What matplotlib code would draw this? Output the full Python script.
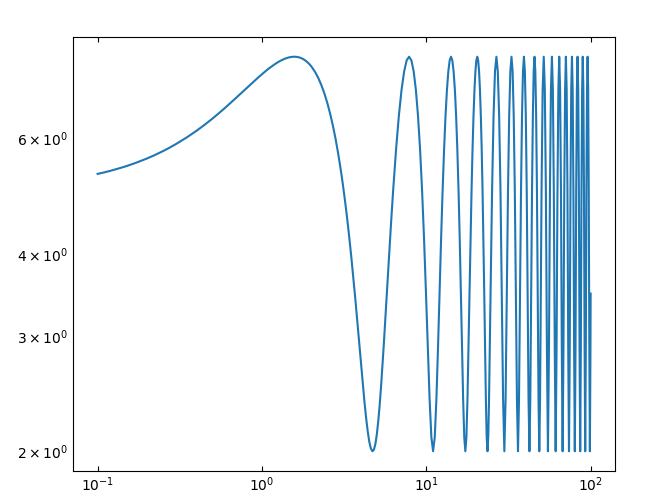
import matplotlib
matplotlib.use("Agg")
import matplotlib.pyplot as plt

# Values (x on log axis, y on log axis)
x_start = [0.10, 0.11, 0.12, 0.13, 0.14, 0.15, 0.17, 0.20, 0.22, 0.25, 0.27, 0.30,
           0.35, 0.40, 0.45, 0.50, 0.55, 0.60, 0.65, 0.70, 0.75, 0.80, 0.85, 0.90,
           0.95, 1.00, 1.05, 1.10, 1.15, 1.20, 1.25, 1.30, 1.35, 1.40, 1.45, 1.50,
           1.55, 1.60, 1.65, 1.70, 1.75, 1.80, 1.85, 1.90, 1.95, 2.00, 2.10, 2.20,
           2.30, 2.40, 2.50, 2.60, 2.70, 2.80, 2.90, 3.00, 3.10, 3.20, 3.30, 3.40,
           3.50, 3.60, 3.70, 3.80, 3.90, 4.00, 4.10, 4.20, 4.30, 4.40, 4.50, 4.60,
           4.70, 4.80, 4.90, 5.00, 5.10, 5.20, 5.30, 5.40, 5.50, 5.60, 5.70, 5.80,
           5.90, 6.00, 6.10, 6.20]
y_start = [5.300, 5.329, 5.359, 5.389, 5.419, 5.448, 5.508, 5.596, 5.655, 5.742,
           5.800, 5.887, 6.029, 6.168, 6.305, 6.438, 6.568, 6.694, 6.816, 6.933,
           7.045, 7.152, 7.254, 7.350, 7.440, 7.524, 7.602, 7.674, 7.738, 7.796,
           7.847, 7.891, 7.927, 7.956, 7.978, 7.992, 7.999, 7.999, 7.991, 7.975,
           7.952, 7.921, 7.884, 7.839, 7.787, 7.728, 7.590, 7.426, 7.237, 7.026,
           6.796, 6.547, 6.282, 6.005, 5.718, 5.423, 5.125, 4.825, 4.527, 4.234,
           3.948, 3.672, 3.411, 3.164, 2.937, 2.730, 2.545, 2.385, 2.251, 2.145,
           2.067, 2.019, 2.000, 2.011, 2.053, 2.123, 2.223, 2.350, 2.503, 2.682,
           2.884, 3.106, 3.348, 3.606, 3.878, 4.162, 4.453, 4.751]

x_fine = [6.2832, 6.5450, 6.8068, 7.0686, 7.3304, 7.5922, 7.8540, 8.1158, 8.3776,
          8.6394, 8.9012, 9.1630, 9.4248, 9.6866, 9.9484, 10.2102, 10.4720, 10.7338,
          10.9956, 11.2574, 11.5192, 11.7810, 12.0428, 12.3046, 12.5664, 12.8282,
          13.0900, 13.3518, 13.6136, 13.8754, 14.1372, 14.3990, 14.6608, 14.9226,
          15.1844, 15.4462, 15.7080, 15.9698, 16.2316, 16.4934, 16.7552, 17.0170,
          17.2788, 17.5406, 17.8024, 18.0642, 18.3260, 18.5878, 18.8496, 19.1114,
          19.3732, 19.6350, 19.8968, 20.1586, 20.4204, 20.6822, 20.9440, 21.2058,
          21.4675, 21.7293, 21.9911, 22.2529, 22.5147, 22.7765, 23.0383, 23.3001,
          23.5619, 23.8237, 24.0855, 24.3473, 24.6091, 24.8709]
y_fine = [5, 5.776, 6.5, 7.121, 7.598, 7.898, 8, 7.898, 7.598, 7.121, 6.5, 5.776,
          5, 4.224, 3.5, 2.879, 2.402, 2.102, 2, 2.102, 2.402, 2.879, 3.5, 4.224,
          5, 5.776, 6.5, 7.121, 7.598, 7.898, 8, 7.898, 7.598, 7.121, 6.5, 5.776,
          5, 4.224, 3.5, 2.879, 2.402, 2.102, 2, 2.102, 2.402, 2.879, 3.5, 4.224,
          5, 5.776, 6.5, 7.121, 7.598, 7.898, 8, 7.898, 7.598, 7.121, 6.5, 5.776,
          5, 4.224, 3.5, 2.879, 2.402, 2.102, 2, 2.102, 2.402, 2.879, 3.5, 4.224]

x_mid = [25.1327, 25.6563, 26.1799, 26.7035, 27.2271, 27.7507, 28.2743, 28.7979,
         29.3215, 29.8451, 30.3687, 30.8923, 31.4159, 31.9395, 32.4631, 32.9867,
         33.5103, 34.0339, 34.5575, 35.0811, 35.6047, 36.1283, 36.6519, 37.1755,
         37.6991, 38.2227, 38.7463, 39.2699, 39.7935, 40.3171, 40.8407, 41.3643,
         41.8879, 42.4115, 42.9351, 43.4587, 43.9823, 44.5059, 45.0295, 45.5531,
         46.0767, 46.6003, 47.1239, 47.6475, 48.1711, 48.6947, 49.2183, 49.7419]
y_mid = [5, 6.5, 7.598, 8, 7.598, 6.5, 5, 3.5, 2.402, 2, 2.402, 3.5,
         5, 6.5, 7.598, 8, 7.598, 6.5, 5, 3.5, 2.402, 2, 2.402, 3.5,
         5, 6.5, 7.598, 8, 7.598, 6.5, 5, 3.5, 2.402, 2, 2.402, 3.5,
         5, 6.5, 7.598, 8, 7.598, 6.5, 5, 3.5, 2.402, 2, 2.402, 3.5]

x_end = [50.2655, 51.0509, 51.8363, 52.6217, 53.4071, 54.1925, 54.9779, 55.7633,
         56.5487, 57.3341, 58.1195, 58.9049, 59.6903, 60.4757, 61.2611, 62.0465,
         62.8319, 63.6173, 64.4026, 65.1880, 65.9734, 66.7588, 67.5442, 68.3296,
         69.1150, 69.9004, 70.6858, 71.4712, 72.2566, 73.0420, 73.8274, 74.6128,
         75.3982, 76.1836, 76.9690, 77.7544, 78.5398, 79.3252, 80.1106, 80.8960,
         81.6814, 82.4668, 83.2522, 84.0376, 84.8230, 85.6084, 86.3938, 87.1792,
         87.9646, 88.7500, 89.5354, 90.3208, 91.1062, 91.8916, 92.6770, 93.4624,
         94.2478, 95.0332, 95.8186, 96.6040, 97.3894, 98.1748, 98.9602, 99.7456,
         100.0]
y_end = [5, 7.121, 8, 7.121, 5, 2.879, 2, 2.879,
         5, 7.121, 8, 7.121, 5, 2.879, 2, 2.879,
         5, 7.121, 8, 7.121, 5, 2.879, 2, 2.879,
         5, 7.121, 8, 7.121, 5, 2.879, 2, 2.879,
         5, 7.121, 8, 7.121, 5, 2.879, 2, 2.879,
         5, 7.121, 8, 7.121, 5, 2.879, 2, 2.879,
         5, 7.121, 8, 7.121, 5, 2.879, 2, 2.879,
         5, 7.121, 8, 7.121, 5, 2.879, 2, 2.879,
         3.48]

x_vals = x_start + x_fine + x_mid + x_end
y_vals = y_start + y_fine + y_mid + y_end

fig, ax = plt.subplots(figsize=(6.5, 5.04), dpi=100)
fig.subplots_adjust(left=0.1123, right=0.9466, bottom=0.0655, top=0.9266)
ax.loglog(x_vals, y_vals)
ax.tick_params(which='both', direction='in', top=True, right=True)
ax.tick_params(which='minor', length=0)
fig.savefig("out.png", dpi=100)
